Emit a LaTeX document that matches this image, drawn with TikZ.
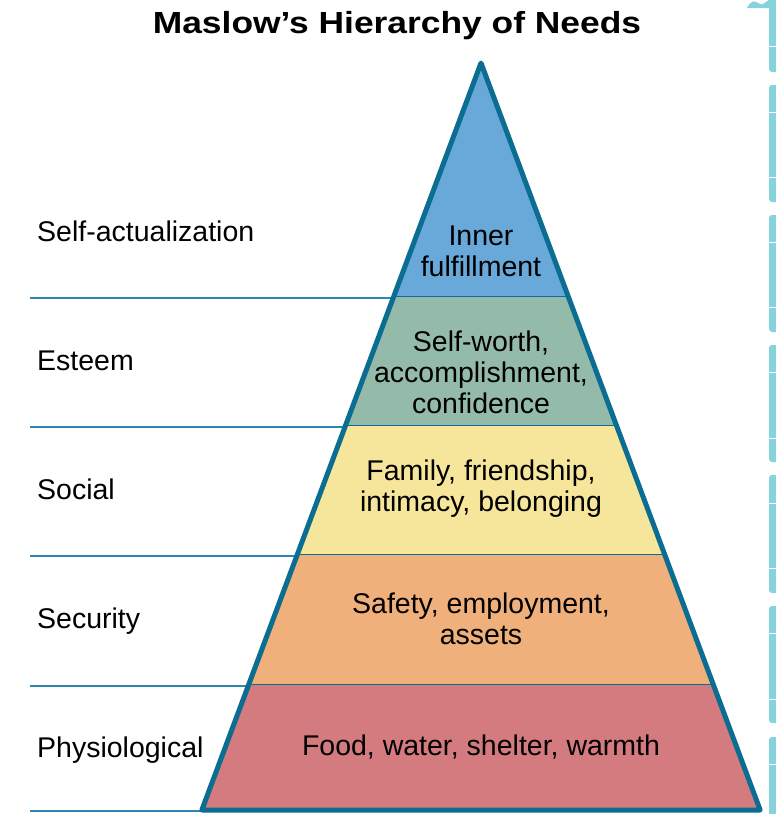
\documentclass[tikz,border=0pt]{standalone}
\usepackage{fontspec}
\setmainfont{Liberation Sans}
\newfontfamily\titlefont{Liberation Sans}[FakeStretch=1.16]

\definecolor{pyrblue}{HTML}{68A9D9}
\definecolor{pyrgreen}{HTML}{94BBAA}
\definecolor{pyryellow}{HTML}{F6E69C}
\definecolor{pyrorange}{HTML}{EFB07B}
\definecolor{pyrred}{HTML}{D47B80}
\definecolor{pyredge}{HTML}{0B6D91}
\definecolor{pyrline}{HTML}{2C88AE}
\definecolor{tabteal}{HTML}{86D3DC}

\def\apexx{481}
\def\apexy{63}
\def\basey{810}
\def\slope{0.3737}

\begin{document}
\begin{tikzpicture}[x=1pt, y=-1pt,
    nodes = {font=\fontsize{28.5}{31}\selectfont, inner sep=0pt, align=center},
    tierline/.style = {draw=pyredge, line width=2.4pt},
    sideline/.style = {draw=pyrline, line width=2.6pt}]
  \useasboundingbox (0,0) rectangle (776,814);

  \node[anchor=base, font=\titlefont\bfseries\fontsize{30.5}{36}\selectfont]
    (title) at (397,33) {Maslow’s Hierarchy of Needs};

  \foreach \ytop/\ybot/\col/\tier/\txt/\ty/\lbl/\ly in {
      63/297/pyrblue/inner/{Inner\\fulfillment}/251/Self-actualization/241,
      297/426/pyrgreen/esteem/{Self-worth,\\accomplishment,\\confidence}/372/Esteem/370,
      426/555/pyryellow/social/{Family, friendship,\\intimacy, belonging}/489/Social/499,
      555/685/pyrorange/safety/{Safety, employment,\\assets}/619/Security/628,
      685/810/pyrred/body/{Food, water, shelter, warmth}/747/Physiological/757
    } {
      \pgfmathsetmacro\wtop{(\ytop-\apexy)*\slope}  % half width at top
      \pgfmathsetmacro\wbot{(\ybot-\apexy)*\slope}  % half width at bottom
      % Fill the tier and set its text
      \fill[\col] (\apexx-\wtop,\ytop) -- (\apexx+\wtop,\ytop)
        -- (\apexx+\wbot,\ybot) -- (\apexx-\wbot,\ybot) -- cycle;
      \node (\tier) at (\apexx,\ty) {\txt};
      \node[anchor=base west] (\tier-label) at (37,\ly) {\lbl};
      % Rule to the left and divider inside
      \draw[sideline] (30,\ybot+1) -- (\apexx-\wbot,\ybot+1);
      \draw[tierline] (\apexx-\wbot,\ybot) -- (\apexx+\wbot,\ybot);
    };

  % Outline of the pyramid
  \pgfmathsetmacro\wbase{(\basey-\apexy)*\slope}
  \draw[draw=pyredge, line width=5pt, line join=round]
    (\apexx,\apexy) -- (\apexx-\wbase,\basey) -- (\apexx+\wbase,\basey) -- cycle;

  % Tabs along the right edge
  \fill[tabteal] (747,8) .. controls (750,1) and (755,0) .. (758,3)
    .. controls (762,7) and (766,1) .. (769,0) -- (769,8) -- cycle;
  \foreach \ya/\yb in {-5/72, 85/202, 215/332, 345/462, 475/593, 606/723, 737/820}
    \fill[tabteal, rounded corners=3pt] (769,\ya) rectangle (782,\yb);
  \foreach \yl in {46,112,177,242,307,372,438,503,568,633,699,764}
    \draw[white, line width=1pt] (769,\yl) -- (776,\yl);
\end{tikzpicture}
\end{document}
